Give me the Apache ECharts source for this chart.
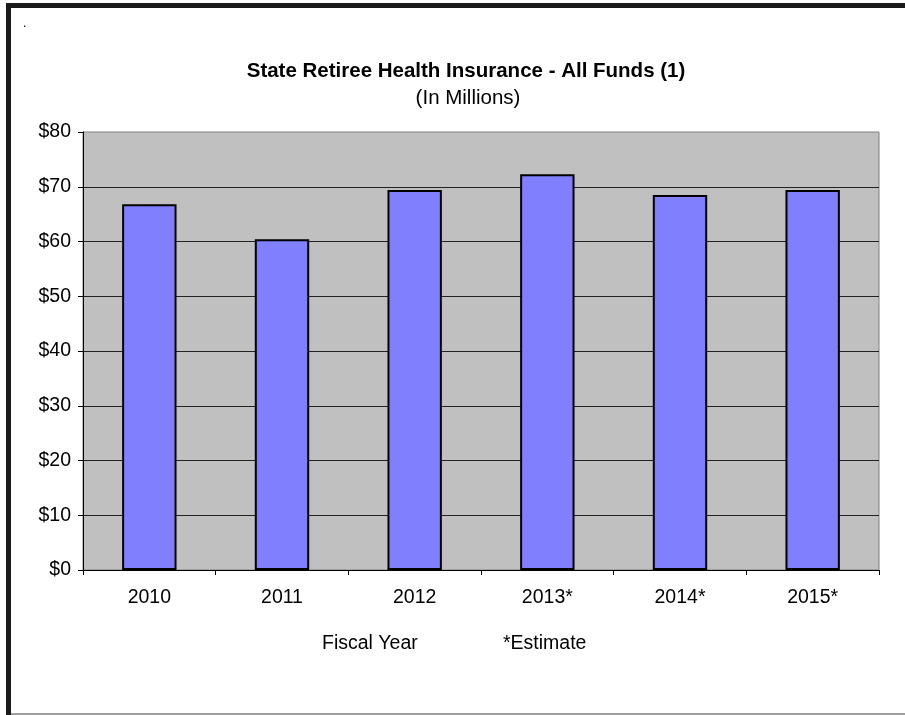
<!DOCTYPE html>
<html>
<head>
<meta charset="utf-8">
<script src="https://cdn.jsdelivr.net/npm/echarts@6/dist/echarts.min.js"></script>
<style>
  html, body { margin: 0; padding: 0; background: #fff; }
  #main { width: 905px; height: 715px; }
</style>
</head>
<body>
<div id="main"></div>
<script>
var years = ['2010', '2011', '2012', '2013*', '2014*', '2015*']
var spending = [66.8, 60.4, 69.4, 72.3, 68.5, 69.4]
var yTicks = [0, 10, 20, 30, 40, 50, 60, 70, 80]

var myChart = echarts.init(document.getElementById('main'))
var font = 'Liberation Sans, Arial, sans-serif'

var option = {
	animation: false,
	backgroundColor: '#fff',
	title: [
		{
			text: 'State Retiree Health Insurance - All Funds (1)',
			left: 461,
			top: 56,
			textAlign: 'center',
			textStyle: { fontFamily: font, fontSize: 20.5, fontWeight: 'bold', color: '#000' },
		},
		{
			text: '(In Millions)',
			left: 463,
			top: 83,
			textAlign: 'center',
			textStyle: { fontFamily: font, fontSize: 20.5, fontWeight: 'normal', color: '#000' },
		},
	],
	grid: {
		left: 83,
		right: 26,
		top: 132,
		bottom: 145,
		show: true,
		backgroundColor: '#c0c0c0',
		borderColor: '#808080',
		borderWidth: 1,
	},
	xAxis: {
		type: 'category',
		data: years,
		axisLine: { lineStyle: { color: '#000', width: 1 } },
		axisTick: { show: true, length: 5, lineStyle: { color: '#000' } },
		axisLabel: { fontFamily: font, fontSize: 19.5, color: '#000', margin: 18 },
	},
	yAxis: {
		type: 'value',
		min: yTicks[0],
		max: yTicks[yTicks.length - 1],
		interval: 10,
		axisLine: { show: true, lineStyle: { color: '#000', width: 1 } },
		axisTick: { show: true, length: 5, lineStyle: { color: '#000' } },
		splitLine: { showMaxLine: false, lineStyle: { color: '#222', width: 1 } },
		axisLabel: {
			fontFamily: font,
			fontSize: 19.5,
			color: '#000',
			margin: 12,
			formatter: function (v) { return '$' + v },
		},
	},
	series: [
		{
			type: 'bar',
			data: spending,
			barWidth: '41%',
			itemStyle: { color: '#8080ff', borderColor: '#000', borderWidth: 2 },
		},
	],
	graphic: [
		// frame round the picture
		{ type: 'rect', shape: { x: 6, y: 3, width: 899, height: 5 }, style: { fill: '#1a1a1a' } },
		{ type: 'rect', shape: { x: 6, y: 3, width: 5, height: 712 }, style: { fill: '#1a1a1a' } },
		{ type: 'rect', shape: { x: 11, y: 713, width: 894, height: 2 }, style: { fill: '#a0a0a0' } },
		{ type: 'text', left: 23, top: 18, style: { text: '.', fontFamily: font, fontSize: 12, fill: '#000' } },
		{ type: 'text', left: 322, top: 634, style: { text: 'Fiscal Year', fontFamily: font, fontSize: 19.5, fill: '#000' } },
		{ type: 'text', left: 503, top: 634, style: { text: '*Estimate', fontFamily: font, fontSize: 19.5, fill: '#000' } },
	],
}
myChart.setOption(option)
</script>
</body>
</html>
